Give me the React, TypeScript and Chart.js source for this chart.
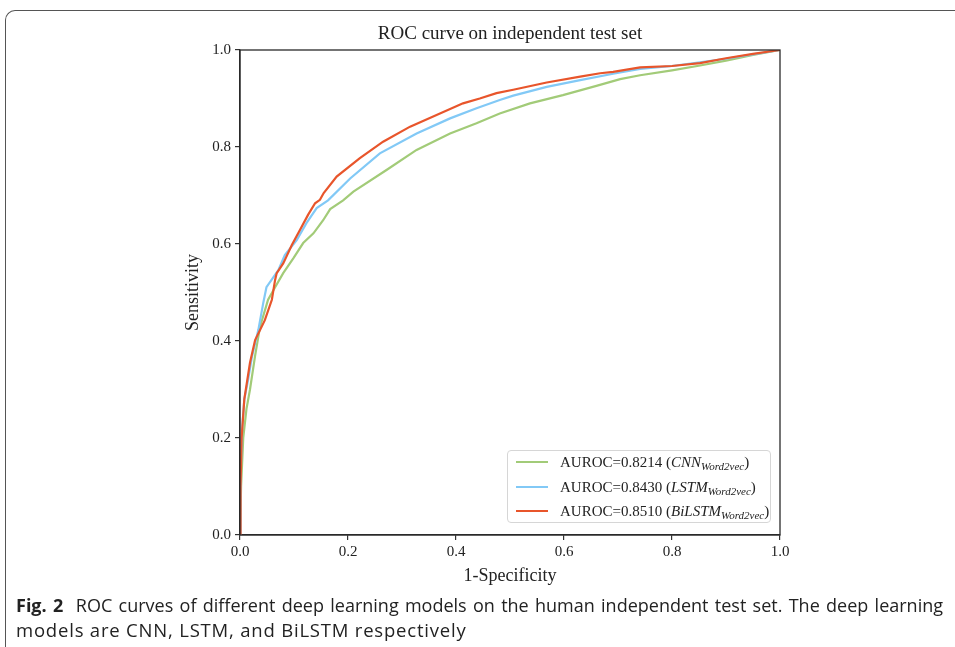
import React, { useEffect, useRef } from 'react';
import { Chart, registerables } from 'chart.js';

Chart.register(...registerables);

// ---- data ----
const cnnFpr = [0, 0.002, 0.006, 0.012, 0.0185, 0.028, 0.037, 0.052, 0.065, 0.08, 0.099, 0.117, 0.136, 0.154, 0.167, 0.191, 0.21, 0.272, 0.327, 0.389, 0.438, 0.481, 0.537, 0.598, 0.66, 0.704, 0.741, 0.8, 0.852, 0.9, 0.95, 1];
const cnnTpr = [0, 0.1, 0.2, 0.26, 0.3, 0.37, 0.429, 0.485, 0.511, 0.54, 0.571, 0.602, 0.622, 0.649, 0.672, 0.69, 0.708, 0.753, 0.794, 0.828, 0.849, 0.869, 0.89, 0.907, 0.926, 0.94, 0.948, 0.958, 0.968, 0.978, 0.99, 1];

const lstmFpr = [0, 0.001, 0.004, 0.008, 0.015, 0.022, 0.034, 0.043, 0.049, 0.061, 0.071, 0.083, 0.105, 0.123, 0.142, 0.163, 0.204, 0.259, 0.327, 0.389, 0.438, 0.481, 0.506, 0.568, 0.63, 0.691, 0.741, 0.8, 0.9, 0.95, 1];
const lstmTpr = [0, 0.12, 0.22, 0.28, 0.32, 0.367, 0.423, 0.478, 0.511, 0.53, 0.546, 0.577, 0.608, 0.643, 0.674, 0.69, 0.735, 0.787, 0.828, 0.859, 0.88, 0.897, 0.906, 0.924, 0.938, 0.951, 0.961, 0.967, 0.982, 0.991, 1];

const bilstmFpr = [0, 0.001, 0.003, 0.008, 0.0185, 0.028, 0.046, 0.059, 0.065, 0.068, 0.08, 0.096, 0.111, 0.126, 0.139, 0.148, 0.155, 0.179, 0.222, 0.265, 0.315, 0.364, 0.413, 0.444, 0.475, 0.506, 0.568, 0.63, 0.667, 0.691, 0.741, 0.8, 0.852, 0.9, 0.95, 1];
const bilstmTpr = [0, 0.1, 0.2, 0.28, 0.355, 0.402, 0.443, 0.485, 0.526, 0.54, 0.56, 0.598, 0.629, 0.66, 0.684, 0.691, 0.705, 0.739, 0.777, 0.811, 0.842, 0.866, 0.89, 0.9, 0.911, 0.918, 0.933, 0.945, 0.952, 0.955, 0.964, 0.967, 0.973, 0.983, 0.992, 1];

const seriesNames = ['CNN', 'LSTM', 'BiLSTM'];
const seriesSub = ['Word2vec', 'Word2vec', 'Word2vec'];
const aurocValues = ['0.8214', '0.8430', '0.8510'];
const seriesColors = ['#a2cb78', '#82c9f6', '#e8552b'];
const axisTicks = [0, 0.2, 0.4, 0.6, 0.8, 1.0];
const tickLabels = ['0.0', '0.2', '0.4', '0.6', '0.8', '1.0'];

const titleText = 'ROC curve on independent test set';
const xTitle = '1-Specificity';
const yTitle = 'Sensitivity';
const captionLabel = 'Fig. 2';
const captionLine1 = 'ROC curves of different deep learning models on the human independent test set. The deep learning';
const captionLine2 = 'models are CNN, LSTM, and BiLSTM respectively';

const SERIF = '"Liberation Serif", "Times New Roman", serif';
const SANS = '"Open Sans", "Noto Sans", sans-serif';

function toPoints(xs: number[], ys: number[]) {
  return xs.map((x, i) => ({ x, y: ys[i] }));
}

const framePlugin = {
  id: 'frame',
  afterDatasetsDraw(chart: any) {
    const { ctx, chartArea } = chart;
    const { left, top, right, bottom } = chartArea;
    ctx.save();
    ctx.strokeStyle = '#2a2a2a';
    ctx.lineWidth = 1.3;
    ctx.strokeRect(left, top, right - left, bottom - top);
    ctx.restore();
  },
};

export default function App() {
  const canvasRef = useRef<HTMLCanvasElement | null>(null);

  useEffect(() => {
    const canvas = canvasRef.current;
    if (!canvas) return;
    const fprs = [cnnFpr, lstmFpr, bilstmFpr];
    const tprs = [cnnTpr, lstmTpr, bilstmTpr];
    const datasets = seriesNames.map((name, i) => ({
      label: name,
      data: toPoints(fprs[i], tprs[i]),
      borderColor: seriesColors[i],
      backgroundColor: seriesColors[i],
      borderWidth: 2.2,
      pointRadius: 0,
      showLine: true,
      tension: 0,
      order: 3 - i,
    }));
    const tickCb = (value: any) => {
      const idx = axisTicks.findIndex((t) => Math.abs(t - Number(value)) < 1e-6);
      return idx >= 0 ? tickLabels[idx] : '';
    };
    const setTicks = (scale: any) => {
      scale.ticks = axisTicks.map((v) => ({ value: v }));
    };
    const chart = new Chart(canvas, {
      type: 'scatter',
      data: { datasets },
      options: {
        animation: false,
        responsive: false,
        devicePixelRatio: 1,
        layout: { padding: { left: 182, top: 50, right: 175, bottom: 60 } },
        plugins: {
          legend: { display: false },
          tooltip: { enabled: false },
          title: { display: false },
        },
        scales: {
          x: {
            type: 'linear',
            min: 0,
            max: 1,
            afterBuildTicks: setTicks,
            afterFit: (scale: any) => {
              scale.height = 52;
            },
            ticks: {
              callback: tickCb,
              color: '#222',
              font: { family: SERIF, size: 15 },
              padding: 3,
              maxRotation: 0,
            },
            grid: {
              display: true,
              drawOnChartArea: false,
              drawTicks: true,
              tickLength: 5,
              color: '#333',
              lineWidth: 1.2,
            },
            border: { display: true, color: '#2a2a2a', width: 1.3 },
            title: {
              display: true,
              text: xTitle,
              color: '#222',
              font: { family: SERIF, size: 18 },
              padding: 0,
            },
          },
          y: {
            type: 'linear',
            min: 0,
            max: 1,
            afterBuildTicks: setTicks,
            afterFit: (scale: any) => {
              scale.width = 240 - 182;
            },
            ticks: {
              callback: tickCb,
              color: '#222',
              font: { family: SERIF, size: 15 },
              padding: 4,
            },
            grid: {
              display: true,
              drawOnChartArea: false,
              drawTicks: true,
              tickLength: 5,
              color: '#333',
              lineWidth: 1.2,
            },
            border: { display: true, color: '#2a2a2a', width: 1.3 },
            title: {
              display: true,
              text: yTitle,
              color: '#222',
              font: { family: SERIF, size: 18 },
              padding: 0,
            },
          },
        },
      },
      plugins: [framePlugin],
    } as any);
    return () => {
      chart.destroy();
    };
  }, []);

  const legendTop = 450;
  const rowH = 24.5;

  return (
    <div
      style={{
        position: 'fixed',
        left: 0,
        top: 0,
        width: 955,
        height: 647,
        overflow: 'hidden',
        background: '#fff',
      }}
    >
      <div
        style={{
          position: 'absolute',
          left: 5,
          top: 10,
          width: 1000,
          height: 700,
          borderTop: '1px solid #555',
          borderLeft: '1px solid #555',
          borderTopLeftRadius: 10,
        }}
      />
      <canvas
        ref={canvasRef}
        width={955}
        height={647}
        style={{ position: 'absolute', left: 0, top: 0, width: 955, height: 647 }}
      />
      <div
        style={{
          position: 'absolute',
          left: 240,
          width: 540,
          top: 21,
          lineHeight: '24px',
          textAlign: 'center',
          fontFamily: SERIF,
          fontSize: 19,
          color: '#222',
        }}
      >
        {titleText}
      </div>
      <div
        style={{
          position: 'absolute',
          left: 507,
          top: legendTop,
          width: 264,
          height: 73,
          border: '1px solid #d6d6d6',
          borderRadius: 4,
          background: 'rgba(255,255,255,0.85)',
          boxSizing: 'border-box',
        }}
      />
      {seriesNames.map((name, i) => {
        const cy = legendTop + 12.3 + i * rowH;
        return (
          <React.Fragment key={name}>
            <div
              style={{
                position: 'absolute',
                left: 516,
                top: cy - 1,
                width: 32,
                height: 2,
                background: seriesColors[i],
              }}
            />
            <div
              style={{
                position: 'absolute',
                left: 560,
                top: cy - 10,
                height: 20,
                lineHeight: '20px',
                whiteSpace: 'nowrap',
                fontFamily: SERIF,
                fontSize: 15,
                color: '#222',
              }}
            >
              {'AUROC=' + aurocValues[i] + ' ('}
              <i>{name}</i>
              <sub style={{ fontSize: 11, fontStyle: 'italic', verticalAlign: '-3px', lineHeight: 0 }}>
                {seriesSub[i]}
              </sub>
              {')'}
            </div>
          </React.Fragment>
        );
      })}
      <div
        style={{
          position: 'absolute',
          left: 16,
          top: 592,
          width: 927,
          lineHeight: '26px',
          fontFamily: SANS,
          fontSize: 18,
          letterSpacing: '0px',
          color: '#222',
          textAlign: 'justify',
          textAlignLast: 'justify',
          whiteSpace: 'nowrap',
        } as any}
      >
        <b>{captionLabel}</b>
        {'\u00a0 ' + captionLine1}
      </div>
      <div
        style={{
          position: 'absolute',
          left: 16,
          top: 617,
          lineHeight: '26px',
          fontFamily: SANS,
          fontSize: 18.5,
          letterSpacing: '0.8px',
          color: '#222',
          whiteSpace: 'nowrap',
        }}
      >
        {captionLine2}
      </div>
    </div>
  );
}
